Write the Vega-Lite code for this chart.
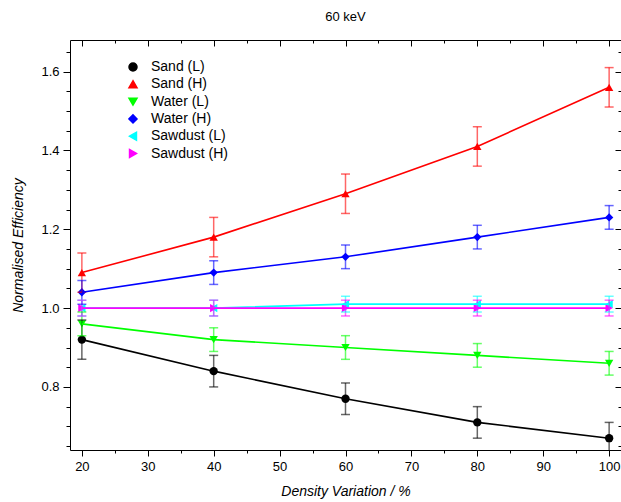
{
  "$schema": "https://vega.github.io/schema/vega-lite/v6.json",
  "width": 551,
  "height": 410,
  "autosize": {"type": "none"},
  "padding": {"left": 70, "top": 40, "right": 0, "bottom": 52},
  "background": "white",
  "title": {
    "text": "60 keV",
    "anchor": "middle",
    "frame": "group",
    "baseline": "middle",
    "offset": 10,
    "font": "Liberation Sans",
    "fontSize": 13,
    "fontWeight": "normal",
    "color": "black"
  },
  "config": {
    "view": {"stroke": "black", "strokeWidth": 1},
    "axis": {"grid": false, "domain": false, "tickColor": "black", "labelColor": "black", "titleColor": "black"},
    "legend": {
      "orient": "none",
      "legendX": 56,
      "legendY": 20,
      "padding": 0,
      "symbolSize": 64,
      "symbolStrokeWidth": 1.5,
      "labelFont": "Liberation Sans",
      "labelFontSize": 14,
      "labelColor": "black",
      "labelOffset": 11,
      "rowPadding": 3.3
    }
  },
  "data": {
    "values": [
      {"series": "Sand (L)", "density": 20, "eff": 0.92, "lo": 0.87, "hi": 0.97},
      {"series": "Sand (L)", "density": 40, "eff": 0.84, "lo": 0.80, "hi": 0.88},
      {"series": "Sand (L)", "density": 60, "eff": 0.77, "lo": 0.73, "hi": 0.81},
      {"series": "Sand (L)", "density": 80, "eff": 0.71, "lo": 0.67, "hi": 0.75},
      {"series": "Sand (L)", "density": 100, "eff": 0.67, "lo": 0.63, "hi": 0.71},
      {"series": "Sand (H)", "density": 20, "eff": 1.09, "lo": 1.04, "hi": 1.14},
      {"series": "Sand (H)", "density": 40, "eff": 1.18, "lo": 1.13, "hi": 1.23},
      {"series": "Sand (H)", "density": 60, "eff": 1.29, "lo": 1.24, "hi": 1.34},
      {"series": "Sand (H)", "density": 80, "eff": 1.41, "lo": 1.36, "hi": 1.46},
      {"series": "Sand (H)", "density": 100, "eff": 1.56, "lo": 1.51, "hi": 1.61},
      {"series": "Water (L)", "density": 20, "eff": 0.96, "lo": 0.93, "hi": 0.99},
      {"series": "Water (L)", "density": 40, "eff": 0.92, "lo": 0.89, "hi": 0.95},
      {"series": "Water (L)", "density": 60, "eff": 0.90, "lo": 0.87, "hi": 0.93},
      {"series": "Water (L)", "density": 80, "eff": 0.88, "lo": 0.85, "hi": 0.91},
      {"series": "Water (L)", "density": 100, "eff": 0.86, "lo": 0.83, "hi": 0.89},
      {"series": "Water (H)", "density": 20, "eff": 1.04, "lo": 1.01, "hi": 1.07},
      {"series": "Water (H)", "density": 40, "eff": 1.09, "lo": 1.06, "hi": 1.12},
      {"series": "Water (H)", "density": 60, "eff": 1.13, "lo": 1.10, "hi": 1.16},
      {"series": "Water (H)", "density": 80, "eff": 1.18, "lo": 1.15, "hi": 1.21},
      {"series": "Water (H)", "density": 100, "eff": 1.23, "lo": 1.20, "hi": 1.26},
      {"series": "Sawdust (L)", "density": 20, "eff": 1.00, "lo": 0.98, "hi": 1.02},
      {"series": "Sawdust (L)", "density": 40, "eff": 1.00, "lo": 0.98, "hi": 1.02},
      {"series": "Sawdust (L)", "density": 60, "eff": 1.01, "lo": 0.99, "hi": 1.03},
      {"series": "Sawdust (L)", "density": 80, "eff": 1.01, "lo": 0.99, "hi": 1.03},
      {"series": "Sawdust (L)", "density": 100, "eff": 1.01, "lo": 0.99, "hi": 1.03},
      {"series": "Sawdust (H)", "density": 20, "eff": 1.00, "lo": 0.98, "hi": 1.02},
      {"series": "Sawdust (H)", "density": 40, "eff": 1.00, "lo": 0.98, "hi": 1.02},
      {"series": "Sawdust (H)", "density": 60, "eff": 1.00, "lo": 0.98, "hi": 1.02},
      {"series": "Sawdust (H)", "density": 80, "eff": 1.00, "lo": 0.98, "hi": 1.02},
      {"series": "Sawdust (H)", "density": 100, "eff": 1.00, "lo": 0.98, "hi": 1.02}
    ]
  },
  "layer": [
    {
      "mark": {"type": "point", "filled": true, "size": 70, "opacity": 1, "clip": true},
      "encoding": {
        "x": {"field": "density", "type": "quantitative",
          "scale": {"domain": [18.2, 101.8], "nice": false, "zero": false},
          "axis": {
            "orient": "top",
            "values": [20, 25, 30, 35, 40, 45, 50, 55, 60, 65, 70, 75, 80, 85, 90, 95, 100],
            "labels": false,
            "title": null,
            "tickSize": {"condition": {"test": "datum.value % 10 === 0", "value": -6}, "value": -3}
          }},
        "y": {"field": "eff", "type": "quantitative",
          "scale": {"domain": [0.64, 1.68], "nice": false, "zero": false},
          "axis": {
            "orient": "right",
            "values": [0.65, 0.7, 0.75, 0.8, 0.85, 0.9, 0.95, 1.0, 1.05, 1.1, 1.15, 1.2, 1.25, 1.3, 1.35, 1.4, 1.45, 1.5, 1.55, 1.6, 1.65],
            "labels": false,
            "title": null,
            "tickSize": {"condition": {"test": "round(datum.value * 100) % 20 === 0", "value": -6}, "value": -3}
          }},
        "shape": {"field": "series", "type": "nominal",
          "scale": {"domain": ["Sand (L)", "Sand (H)", "Water (L)", "Water (H)", "Sawdust (L)", "Sawdust (H)"],
                    "range": ["circle", "triangle-up", "triangle-down", "diamond", "triangle-left", "triangle-right"]},
          "legend": {"title": null}},
        "color": {"field": "series", "type": "nominal",
          "scale": {"domain": ["Sand (L)", "Sand (H)", "Water (L)", "Water (H)", "Sawdust (L)", "Sawdust (H)"],
                    "range": ["#000000", "#ff0000", "#00ff00", "#0000ff", "#00ffff", "#ff00ff"]},
          "legend": {"title": null}}
      }
    },
    {
      "mark": {"type": "rule", "strokeWidth": 1.5, "opacity": 0.6, "clip": true},
      "encoding": {
        "x": {"field": "density", "type": "quantitative", "axis": null},
        "y": {"field": "lo", "type": "quantitative", "axis": null},
        "y2": {"field": "hi"},
        "color": {"field": "series", "type": "nominal"}
      }
    },
    {
      "mark": {"type": "tick", "orient": "horizontal", "size": 9, "thickness": 1.5, "opacity": 0.6, "clip": true},
      "encoding": {
        "x": {"field": "density", "type": "quantitative", "axis": null},
        "y": {"field": "lo", "type": "quantitative", "axis": null},
        "color": {"field": "series", "type": "nominal"}
      }
    },
    {
      "mark": {"type": "tick", "orient": "horizontal", "size": 9, "thickness": 1.5, "opacity": 0.6, "clip": true},
      "encoding": {
        "x": {"field": "density", "type": "quantitative", "axis": null},
        "y": {"field": "hi", "type": "quantitative", "axis": null},
        "color": {"field": "series", "type": "nominal"}
      }
    },
    {
      "mark": {"type": "line", "strokeWidth": 1.6, "clip": true},
      "encoding": {
        "x": {"field": "density", "type": "quantitative",
          "axis": {
            "orient": "bottom",
            "values": [20, 25, 30, 35, 40, 45, 50, 55, 60, 65, 70, 75, 80, 85, 90, 95, 100],
            "labelExpr": "datum.value % 10 === 0 ? datum.label : ''",
            "tickSize": {"condition": {"test": "datum.value % 10 === 0", "value": 6}, "value": 3},
            "labelPadding": 4,
            "labelFont": "Liberation Sans",
            "labelFontSize": 13,
            "labelFlush": false,
            "labelOverlap": false,
            "title": "Density Variation / %",
            "titleFont": "Liberation Sans",
            "titleFontSize": 14,
            "titleFontStyle": "italic",
            "titleFontWeight": "normal",
            "titleX": 275.5,
            "titleY": 41,
            "titleBaseline": "middle"
          }},
        "y": {"field": "eff", "type": "quantitative",
          "axis": {
            "orient": "left",
            "values": [0.65, 0.7, 0.75, 0.8, 0.85, 0.9, 0.95, 1.0, 1.05, 1.1, 1.15, 1.2, 1.25, 1.3, 1.35, 1.4, 1.45, 1.5, 1.55, 1.6, 1.65],
            "labelExpr": "round(datum.value * 100) % 20 === 0 ? format(datum.value, '.1f') : ''",
            "tickSize": {"condition": {"test": "round(datum.value * 100) % 20 === 0", "value": 7}, "value": 4},
            "labelPadding": 4,
            "labelFont": "Liberation Sans",
            "labelFontSize": 13,
            "labelFlush": false,
            "labelOverlap": false,
            "title": "Normalised Efficiency",
            "titleFont": "Liberation Sans",
            "titleFontSize": 14,
            "titleFontStyle": "italic",
            "titleFontWeight": "normal",
            "titleX": -52,
            "titleY": 205,
            "titleBaseline": "middle"
          }},
        "color": {"field": "series", "type": "nominal"}
      }
    }
  ]
}
